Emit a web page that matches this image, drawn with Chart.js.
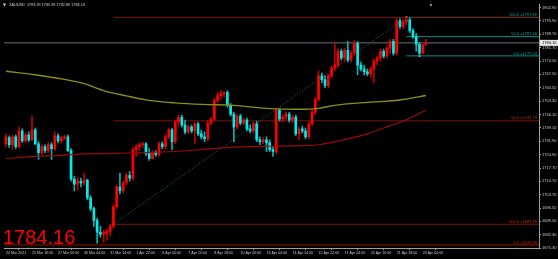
<!DOCTYPE html>
<html>
<head>
<meta charset="utf-8">
<script src="https://cdn.jsdelivr.net/npm/chart.js@4.4.0/dist/chart.umd.min.js"></script>
<style>
html, body { margin: 0; padding: 0; background: #000; }
canvas { display: block; }
</style>
</head>
<body>
<canvas id="graphCanvas" width="558" height="259"></canvas>
<script>
// chart data (H4 XAUUSD candles)
let symbolName = 'XAUUSD';
let timeLabels = ['24 Mar 2021', '25 Mar 16:00', '27 Mar 00:00', '30 Mar 04:00', '31 Mar 14:00', '1 Apr 22:00', '6 Apr 00:00',
    '7 Apr 10:00', '8 Apr 18:00', '10 Apr 00:00', '13 Apr 04:00', '14 Apr 14:00', '15 Apr 22:00', '17 Apr 04:00',
    '20 Apr 10:00', '21 Apr 18:00', '23 Apr 00:00'];
let labelStep = 8;

let opens = [1730.6, 1733.8, 1730.1, 1734.3, 1729.1, 1737.4, 1732.2, 1735.3, 1732.7, 1738.0,
    1730.6, 1725.9, 1729.1, 1727.0, 1730.1, 1728.0, 1734.8, 1732.2, 1733.8, 1734.3,
    1727.0, 1711.9, 1709.2, 1710.8, 1709.8, 1711.3, 1701.9, 1696.2, 1689.9, 1683.7,
    1682.6, 1683.1, 1684.2, 1686.8, 1697.2, 1707.7, 1705.6, 1709.8, 1713.9, 1712.4,
    1727.5, 1729.1, 1730.1, 1730.6, 1725.4, 1722.8, 1725.9, 1724.9, 1730.6, 1729.1,
    1734.3, 1738.0, 1731.7, 1742.1, 1744.7, 1740.6, 1736.9, 1739.5, 1737.4, 1741.1,
    1735.9, 1734.3, 1733.3, 1741.6, 1743.7, 1753.6, 1756.2, 1757.3, 1757.8, 1751.0,
    1746.3, 1739.5, 1745.3, 1741.6, 1743.2, 1738.5, 1737.4, 1741.1, 1732.7, 1731.7,
    1732.7, 1731.2, 1727.5, 1726.5, 1748.4, 1743.7, 1744.7, 1746.3, 1743.2, 1744.7,
    1735.9, 1738.5, 1737.4, 1734.3, 1741.1, 1747.4, 1754.1, 1766.7, 1764.6, 1761.5,
    1766.7, 1770.8, 1772.4, 1779.7, 1776.1, 1780.2, 1775.0, 1778.7, 1783.9, 1772.4,
    1770.3, 1768.8, 1767.7, 1770.3, 1774.5, 1776.1, 1779.7, 1777.1, 1781.3, 1784.9,
    1778.7, 1795.9, 1792.8, 1795.4, 1796.4, 1790.7, 1787.5, 1783.4, 1778.7, 1783.39];
let highs = [1735.9, 1734.8, 1735.3, 1735.3, 1739.5, 1738.5, 1736.4, 1736.9, 1745.3, 1739.0,
    1731.7, 1730.1, 1730.1, 1731.2, 1731.2, 1736.9, 1735.9, 1734.8, 1735.3, 1735.3,
    1728.0, 1713.4, 1712.9, 1712.4, 1715.0, 1711.9, 1703.0, 1697.2, 1691.0, 1686.8,
    1684.7, 1685.2, 1687.8, 1698.3, 1708.7, 1715.0, 1710.8, 1715.0, 1716.0, 1728.6,
    1730.1, 1731.2, 1731.2, 1731.2, 1728.0, 1727.0, 1727.0, 1731.7, 1731.7, 1735.3,
    1739.0, 1739.0, 1743.2, 1745.8, 1745.8, 1743.2, 1740.6, 1740.6, 1742.1, 1742.1,
    1737.9, 1736.9, 1743.2, 1744.7, 1754.7, 1757.8, 1758.8, 1758.3, 1758.8, 1752.0,
    1747.4, 1746.3, 1746.3, 1744.2, 1744.2, 1740.6, 1742.1, 1742.6, 1734.3, 1733.8,
    1734.3, 1732.7, 1729.1, 1749.4, 1749.4, 1745.8, 1747.4, 1747.4, 1745.8, 1745.8,
    1739.5, 1740.0, 1739.0, 1742.1, 1748.4, 1755.2, 1769.3, 1768.2, 1766.7, 1767.7,
    1771.9, 1783.9, 1780.8, 1780.8, 1781.3, 1784.9, 1779.7, 1785.5, 1784.9, 1774.0,
    1772.4, 1770.3, 1771.4, 1775.5, 1777.1, 1780.8, 1780.8, 1782.3, 1786.0, 1786.0,
    1797.5, 1797.0, 1796.4, 1797.69, 1797.5, 1791.7, 1789.1, 1784.4, 1783.9, 1785.99];
let lows = [1729.1, 1728.6, 1727.5, 1728.0, 1728.6, 1731.2, 1731.2, 1731.7, 1732.2, 1730.1,
    1722.3, 1724.9, 1725.9, 1725.9, 1722.3, 1727.0, 1731.2, 1731.2, 1732.7, 1726.5,
    1710.8, 1705.6, 1706.1, 1707.7, 1708.7, 1700.9, 1695.1, 1686.8, 1677.9, 1681.0,
    1678.4, 1679.5, 1681.6, 1685.7, 1696.2, 1704.0, 1704.5, 1708.7, 1710.8, 1711.3,
    1723.9, 1727.0, 1728.6, 1724.4, 1721.8, 1722.3, 1723.9, 1723.9, 1728.0, 1728.0,
    1733.3, 1727.5, 1730.6, 1740.0, 1739.5, 1735.9, 1735.9, 1736.4, 1730.6, 1734.8,
    1733.3, 1731.7, 1732.2, 1740.6, 1742.6, 1752.6, 1754.1, 1755.2, 1750.0, 1745.3,
    1731.7, 1738.5, 1740.6, 1740.6, 1737.4, 1736.4, 1736.4, 1731.7, 1730.1, 1730.6,
    1726.5, 1726.5, 1723.9, 1725.4, 1742.6, 1742.1, 1743.2, 1742.1, 1741.6, 1734.8,
    1732.7, 1736.4, 1733.3, 1733.3, 1740.0, 1746.3, 1753.1, 1763.0, 1760.4, 1760.4,
    1765.6, 1769.3, 1771.4, 1775.0, 1774.0, 1774.0, 1774.0, 1777.1, 1767.2, 1769.3,
    1767.2, 1766.7, 1765.6, 1763.0, 1772.4, 1774.5, 1776.1, 1776.1, 1778.7, 1777.6,
    1777.6, 1791.7, 1791.7, 1793.8, 1789.6, 1786.5, 1779.7, 1777.24, 1778.2, 1782.89];
let closes = [1734.3, 1730.1, 1734.3, 1729.1, 1737.4, 1732.2, 1735.3, 1732.7, 1738.0, 1730.6,
    1725.9, 1729.1, 1727.0, 1730.1, 1728.0, 1734.8, 1732.2, 1733.8, 1734.3, 1727.0,
    1711.9, 1709.2, 1710.8, 1709.8, 1711.3, 1701.9, 1696.2, 1689.9, 1683.7, 1682.6,
    1683.7, 1684.2, 1686.8, 1697.2, 1707.7, 1705.6, 1709.8, 1713.9, 1712.4, 1727.5,
    1729.1, 1730.1, 1730.6, 1725.4, 1722.8, 1725.9, 1724.9, 1730.6, 1729.1, 1734.3,
    1738.0, 1731.7, 1742.1, 1744.7, 1740.6, 1736.9, 1739.5, 1737.4, 1741.1, 1735.9,
    1734.3, 1733.3, 1741.6, 1743.7, 1753.6, 1756.2, 1757.3, 1757.8, 1751.0, 1746.3,
    1739.5, 1745.3, 1741.6, 1743.2, 1738.5, 1737.4, 1741.1, 1732.7, 1731.7, 1732.7,
    1731.2, 1727.5, 1726.5, 1748.4, 1743.7, 1744.7, 1746.3, 1743.2, 1744.7, 1735.9,
    1738.5, 1737.4, 1734.3, 1741.1, 1747.4, 1754.1, 1766.7, 1764.6, 1761.5, 1766.7,
    1770.8, 1772.4, 1779.7, 1776.1, 1780.2, 1775.0, 1778.7, 1783.9, 1772.4, 1770.3,
    1768.8, 1767.7, 1770.3, 1774.5, 1776.1, 1779.7, 1777.1, 1781.3, 1784.9, 1778.7,
    1795.9, 1792.8, 1795.4, 1796.4, 1790.7, 1787.5, 1783.4, 1778.7, 1782.9, 1784.16];

// moving averages, sampled at some bars
let maIndex = [0, 9, 18, 24, 30, 37, 43, 52, 60, 70, 80, 91, 96, 101, 111, 116, 122, 129];
let maYellow = [1769.1, 1767.2, 1764.8, 1762.5, 1758.8, 1756.0, 1753.9, 1752.3, 1751.5, 1751.0, 1749.4, 1748.9, 1749.4, 1751.0, 1752.6, 1753.1, 1754.1, 1756.2];
let maRed = [1722.8, 1723.9, 1724.6, 1725.2, 1725.4, 1725.7, 1725.9, 1726.5, 1727.5, 1728.8, 1729.3, 1729.6, 1730.1, 1731.7, 1735.9, 1739.0, 1742.7, 1748.4];

let priceTicks = [1675.30, 1682.30, 1689.50, 1696.50, 1703.70, 1710.70, 1717.70, 1724.90, 1731.90, 1739.10,
    1746.10, 1753.30, 1760.50, 1767.50, 1774.50, 1781.70, 1788.70, 1795.90, 1802.90];

// fibonacci objects
let redFibFrom = 33, redFibTo = 123;
let redFibNames = ['0.0', '50.0', '100.0'];
let redFibPrices = [1797.69, 1742.79, 1687.89];
let tealFibFrom = 123, tealFibTo = 127;
let tealFibNames = ['100.0', '50.0', '0.0'];
let tealFibPrices = [1797.69, 1787.46, 1777.24];
let lowLineName = '0.0';
let lowLinePrice = 1676.90;
let bidPrice = closes[closes.length - 1];

let xMin = -0.6, xMax = 163.7, rayEnd = 170;
let bullColor = '#ff0000', bearColor = '#00ecec';

let wickData = [], bodyData = [], wickColors = [], bodyColors = [];
for (let i = 0; i < opens.length; i++) {
    let up = closes[i] >= opens[i];
    wickData.push({ x: i, y: [lows[i], highs[i]] });
    bodyData.push({ x: i, y: [opens[i], closes[i]] });
    wickColors.push(up ? '#c00000' : '#00b4b4');
    bodyColors.push(up ? bullColor : bearColor);
}

function levelLine(price, fromX, color, dash) {
    return {
        type: 'line',
        data: [{ x: fromX, y: price }, { x: rayEnd, y: price }],
        borderColor: color,
        borderWidth: 1,
        borderDash: dash || [],
        pointRadius: 0,
        order: 4
    };
}

function maLine(values, color, width) {
    return {
        type: 'line',
        data: maIndex.map((x, i) => ({ x: x, y: values[i] })),
        borderColor: color,
        borderWidth: width,
        pointRadius: 0,
        cubicInterpolationMode: 'monotone',
        order: 0
    };
}

let datasets = [
    maLine(maYellow, '#8c8c16', 1.4),
    maLine(maRed, '#9a0a0a', 1.2),
    { type: 'bar', data: bodyData, backgroundColor: bodyColors, barThickness: 2, grouped: false, minBarLength: 1, borderWidth: 0, order: 1 },
    { type: 'bar', data: wickData, backgroundColor: wickColors, barThickness: 1, grouped: false, borderWidth: 0, order: 2 },
    levelLine(bidPrice, xMin - 5, '#6e6e7c'),
    levelLine(lowLinePrice, xMin - 5, '#8a1800')
];
redFibPrices.forEach(p => datasets.push(levelLine(p, redFibFrom, '#7c1600')));
tealFibPrices.forEach(p => datasets.push(levelLine(p, tealFibFrom, '#009090')));
// trend line of the red fibo
datasets.push({
    type: 'line',
    data: [{ x: redFibFrom, y: redFibPrices[2] }, { x: redFibTo, y: redFibPrices[0] }],
    borderColor: '#00806a',
    borderWidth: 1,
    borderDash: [1, 2],
    pointRadius: 1,
    pointBackgroundColor: '#c8c8b0',
    pointBorderWidth: 0,
    order: 3
});
datasets.push({
    type: 'line',
    data: [{ x: tealFibTo, y: tealFibPrices[2] }],
    pointRadius: 1,
    pointBackgroundColor: '#c8c8b0',
    pointBorderWidth: 0,
    showLine: false,
    order: 3
});

let textPlugin = {
    id: 'mtTexts',
    afterDraw(chart) {
        let ctx = chart.ctx, xs = chart.scales.x, ys = chart.scales.y, area = chart.chartArea;
        ctx.save();
        ctx.font = '4px "Liberation Sans"';
        ctx.textAlign = 'right';
        ctx.textBaseline = 'bottom';
        // fibo level labels
        ctx.fillStyle = '#00a8a8';
        tealFibPrices.forEach((p, i) => {
            ctx.fillText(tealFibNames[i] + ' =' + p.toFixed(2), area.right - 2, ys.getPixelForValue(p) - 0.5);
        });
        ctx.fillStyle = '#c83000';
        redFibPrices.forEach((p, i) => {
            if (i > 0) ctx.fillText(redFibNames[i] + ' =' + p.toFixed(2), area.right - 2, ys.getPixelForValue(p) - 0.5);
        });
        ctx.fillText(lowLineName + ' =' + lowLinePrice.toFixed(2), area.right - 2, ys.getPixelForValue(lowLinePrice) - 0.5);

        // bid price box on the axis
        let by = ys.getPixelForValue(bidPrice);
        ctx.fillStyle = '#e8e8e8';
        ctx.fillRect(area.right + 1, by - 3, 18, 6);
        ctx.fillStyle = '#000';
        ctx.textAlign = 'left';
        ctx.textBaseline = 'middle';
        ctx.fillText(bidPrice.toFixed(2), area.right + 3, by);

        // top-left info line
        let n = opens.length - 1;
        ctx.fillStyle = '#d0d0d0';
        ctx.font = '3.8px "DejaVu Sans"';
        ctx.fillText('\u25BC', 3, 5);
        ctx.font = '3.8px "Liberation Sans"';
        ctx.fillText(symbolName + '  ' + opens[n].toFixed(2) + ' ' + highs[n].toFixed(2) + ' ' +
            lows[n].toFixed(2) + ' ' + closes[n].toFixed(2), 9, 5);

        // shift marker
        let sx = xs.getPixelForValue(n + 1.5);
        ctx.fillStyle = '#9090a0';
        ctx.beginPath();
        ctx.moveTo(sx - 1.5, area.top);
        ctx.lineTo(sx + 1.5, area.top);
        ctx.lineTo(sx, area.top + 3);
        ctx.fill();

        // big price
        ctx.fillStyle = '#ff0000';
        ctx.font = '20px "Liberation Sans"';
        ctx.textBaseline = 'alphabetic';
        ctx.fillText(bidPrice.toFixed(2), 3, area.bottom - 4);
        ctx.restore();
    }
};

// no extra padding so the plot fills the window like the terminal does
function noPad(s) {
    s.paddingTop = 0;
    s.paddingBottom = 0;
    s.paddingLeft = 0;
    s.paddingRight = 0;
}

let graphCanvas = document.getElementById('graphCanvas').getContext('2d');
let chart = new Chart(graphCanvas, {
    type: 'bar',
    data: { datasets: datasets },
    options: {
        responsive: false,
        animation: false,
        devicePixelRatio: 1,
        layout: { padding: 0 },
        plugins: { legend: { display: false }, tooltip: { enabled: false } },
        scales: {
            x: {
                type: 'linear',
                position: 'bottom',
                min: xMin,
                max: xMax,
                offset: false,
                afterBuildTicks: s => { s.ticks = timeLabels.map((t, i) => ({ value: i * labelStep })); },
                afterFit: s => { s.height = 11; noPad(s); },
                ticks: {
                    autoSkip: false,
                    maxRotation: 0,
                    align: 'start',
                    padding: 1,
                    color: '#c8c8c8',
                    font: { family: 'Liberation Sans', size: 3.6 },
                    callback: v => timeLabels[Math.round(v / labelStep)]
                },
                grid: { drawOnChartArea: false, tickLength: 2, color: '#a0a0a0' },
                border: { color: '#a0a0a0' }
            },
            y: {
                type: 'linear',
                position: 'right',
                min: 1675.3,
                max: 1804.78,
                beginAtZero: false,
                afterBuildTicks: s => { s.ticks = priceTicks.map(v => ({ value: v })); },
                afterFit: s => { s.width = 19; noPad(s); },
                ticks: {
                    autoSkip: false,
                    padding: 1,
                    color: '#c8c8c8',
                    font: { family: 'Liberation Sans', size: 4 },
                    callback: v => v.toFixed(2)
                },
                grid: { drawOnChartArea: false, tickLength: 2, color: '#a0a0a0' },
                border: { color: '#a0a0a0' }
            }
        }
    },
    plugins: [textPlugin]
});
</script>
</body>
</html>
